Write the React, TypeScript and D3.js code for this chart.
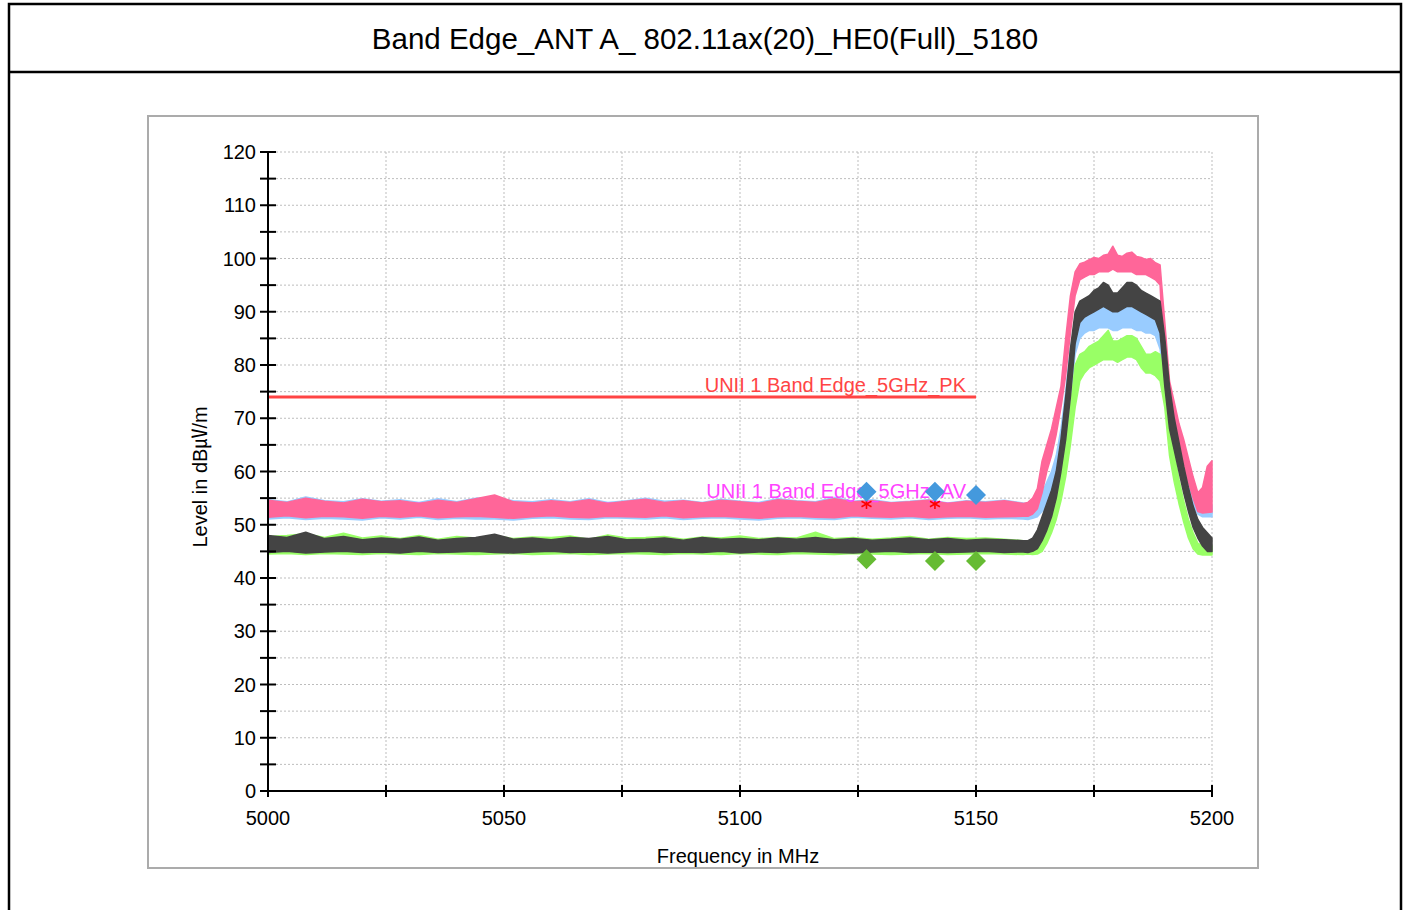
import React from "react";
import * as d3 from "d3";

// Spectrum sweep frequencies (MHz): coarse in the flat region, 1 MHz across the channel
const freqMHz = [
  5000, 5004, 5008, 5012, 5016, 5020, 5024, 5028, 5032, 5036, 5040, 5044, 5048, 5052,
  5056, 5060, 5064, 5068, 5072, 5076, 5080, 5084, 5088, 5092, 5096, 5100, 5104, 5108,
  5112, 5116, 5120, 5124, 5128, 5132, 5136, 5140, 5144, 5148, 5152, 5156, 5160,
  5161, 5162, 5163, 5164, 5165, 5166, 5167, 5168, 5169, 5170,
  5171, 5172, 5173, 5174, 5175, 5176, 5177, 5178, 5179, 5180,
  5181, 5182, 5183, 5184, 5185, 5186, 5187, 5188, 5189, 5190,
  5191, 5192, 5193, 5194, 5195, 5196, 5197, 5198, 5199, 5200,
];

// Trace envelopes (upper / lower level in dBµV/m) per detector trace
const pinkHi = [
  54.6, 54.2, 55.0, 54.4, 54.1, 54.8, 54.3, 54.5, 54.0, 54.6, 54.2, 54.9, 55.6, 54.3,
  54.1, 54.5, 54.2, 54.7, 54.0, 54.4, 54.8, 54.2, 54.5, 54.1, 54.6, 54.3, 54.0, 54.7,
  54.4, 54.2, 54.9, 54.3, 54.5, 54.1, 54.3, 54.6, 54.0, 54.4, 54.2, 54.5, 54.0,
  54.2, 55.0, 56.8, 62.0, 65.0, 68.0, 72.0, 76.0, 85.0, 93.0,
  97.5, 99.0, 99.3, 99.8, 100.2, 100.0, 100.6, 100.8, 102.3, 100.6,
  100.4, 101.0, 101.2, 100.4, 100.2, 99.8, 100.0, 99.2, 98.8, 88.0,
  77.0, 73.0, 69.0, 66.0, 62.5, 59.0, 56.0, 57.0, 61.0, 62.0,
];
const pinkLo = [
  51.4, 51.7, 51.3, 51.6, 51.5, 51.2, 51.6, 51.4, 51.7, 51.3, 51.5, 51.6, 51.4, 51.2,
  51.5, 51.7, 51.4, 51.3, 51.6, 51.5, 51.4, 51.7, 51.3, 51.5, 51.6, 51.4, 51.2, 51.5,
  51.6, 51.4, 51.3, 51.7, 51.5, 51.4, 51.6, 51.3, 51.5, 51.6, 51.4, 51.5, 51.6,
  51.6, 52.0, 53.0, 56.0, 60.0, 63.0, 67.0, 72.0, 78.0, 86.0,
  93.0, 96.0, 96.5, 97.0, 97.0, 97.5, 97.5, 97.5, 98.0, 97.5,
  97.5, 97.5, 97.5, 97.0, 97.0, 97.0, 96.5, 96.0, 95.0, 78.0,
  72.0, 68.0, 64.0, 61.0, 58.0, 55.0, 52.5, 52.2, 52.3, 52.4,
];
const blueHi = [
  54.7, 54.3, 55.2, 54.5, 54.3, 54.9, 54.4, 54.7, 54.2, 54.9, 54.3, 55.0, 55.1, 54.5,
  54.3, 54.7, 54.3, 54.9, 54.2, 54.5, 55.0, 54.4, 54.6, 54.2, 54.8, 54.4, 54.2, 54.9,
  54.5, 54.3, 55.1, 54.4, 54.7, 54.2, 54.4, 54.7, 54.1, 54.5, 54.3, 54.6, 54.1,
  54.0, 54.0, 54.5, 56.0, 58.0, 60.0, 63.0, 68.0, 75.0, 83.0,
  88.0, 89.0, 89.5, 90.0, 90.5, 91.0, 91.0, 90.5, 90.0, 90.0,
  90.5, 91.0, 91.0, 90.5, 90.5, 90.0, 89.5, 89.0, 88.5, 84.0,
  76.0, 71.0, 67.0, 63.0, 59.5, 57.0, 55.0, 54.0, 53.5, 53.5,
];
const blueLo = [
  51.1, 51.3, 51.0, 51.2, 51.1, 50.9, 51.3, 51.1, 51.4, 51.0, 51.2, 51.1, 51.1, 50.9,
  51.2, 51.3, 51.1, 51.0, 51.3, 51.2, 51.1, 51.3, 51.0, 51.2, 51.3, 51.1, 50.9, 51.2,
  51.3, 51.1, 51.0, 51.4, 51.2, 51.1, 51.3, 51.0, 51.2, 51.3, 51.1, 51.2, 51.1,
  51.0, 51.2, 51.5, 52.5, 53.5, 55.0, 57.0, 61.0, 66.0, 74.0,
  82.0, 85.0, 86.0, 86.5, 86.5, 87.0, 87.0, 87.0, 86.5, 86.5,
  87.0, 87.0, 87.0, 86.5, 86.5, 86.0, 86.0, 85.5, 83.0, 76.0,
  69.0, 65.0, 61.5, 58.0, 55.5, 53.5, 52.0, 51.5, 51.5, 51.5,
];
const grayHi = [
  48.0, 47.6, 48.6, 47.4, 47.8, 47.2, 47.5, 47.3, 47.7, 47.1, 47.4, 47.6, 48.2, 47.3,
  47.5, 47.2, 47.6, 47.4, 47.8, 47.2, 47.3, 47.5, 47.1, 47.6, 47.3, 47.4, 47.2, 47.5,
  47.3, 47.6, 47.2, 47.4, 47.1, 47.3, 47.5, 47.2, 47.4, 47.1, 47.3, 47.2, 47.0,
  47.0, 47.5, 49.0, 51.5, 54.0, 56.5, 60.0, 66.0, 74.0, 83.0,
  90.0, 92.0, 92.5, 93.0, 94.0, 94.5, 95.5, 95.0, 93.5, 93.5,
  94.5, 95.5, 95.5, 95.0, 94.0, 93.5, 93.0, 92.5, 92.0, 85.0,
  76.0, 70.0, 65.5, 61.0, 57.0, 53.5, 51.0, 49.5, 48.5, 47.5,
];
const grayLo = [
  44.8, 45.0, 44.7, 44.9, 45.0, 44.8, 44.9, 44.7, 45.0, 44.8, 44.9, 45.0, 44.8, 44.7,
  44.9, 45.0, 44.8, 44.9, 44.7, 44.9, 45.0, 44.8, 44.9, 44.8, 45.0, 44.7, 44.9, 44.8,
  45.0, 44.9, 44.8, 44.7, 44.9, 45.0, 44.8, 44.9, 44.8, 44.9, 45.0, 44.8, 44.9,
  44.8, 45.0, 45.5, 47.0, 49.0, 51.5, 55.0, 60.0, 66.0, 74.0,
  84.0, 88.0, 89.0, 89.5, 90.0, 90.5, 91.0, 90.5, 90.0, 90.0,
  90.5, 91.0, 91.0, 90.5, 90.0, 89.5, 89.0, 88.5, 86.0, 76.0,
  68.0, 64.0, 60.0, 56.0, 52.5, 49.5, 47.5, 46.0, 45.0, 45.0,
];
const greenHi = [
  47.8, 48.0, 48.3, 47.6, 48.4, 47.5, 47.9, 47.4, 48.0, 47.3, 47.8, 47.5, 48.0, 47.4,
  47.7, 47.6, 47.9, 47.3, 48.1, 47.5, 47.6, 47.8, 47.3, 47.7, 47.5, 47.9, 47.4, 47.6,
  47.5, 48.6, 47.4, 47.6, 47.3, 47.5, 47.8, 47.3, 47.6, 47.4, 47.5, 47.3, 47.0,
  46.8, 46.6, 46.5, 47.5, 50.0, 52.5, 55.5, 60.0, 65.0, 72.0,
  80.0, 82.0, 82.5, 83.5, 84.0, 84.5, 85.5, 86.5, 84.5, 84.5,
  85.0, 85.5, 85.5, 85.0, 83.5, 82.0, 82.0, 82.5, 82.0, 78.0,
  68.0, 63.5, 58.5, 54.5, 51.0, 48.5, 46.5, 46.2, 46.0, 46.0,
];
const greenLo = [
  44.5, 44.6, 44.4, 44.6, 44.5, 44.4, 44.6, 44.5, 44.4, 44.6, 44.5, 44.4, 44.5, 44.6,
  44.4, 44.5, 44.6, 44.4, 44.5, 44.6, 44.5, 44.4, 44.6, 44.5, 44.4, 44.6, 44.5, 44.4,
  44.6, 44.5, 44.4, 44.6, 44.5, 44.4, 44.5, 44.6, 44.4, 44.5, 44.6, 44.5, 44.4,
  44.5, 44.4, 44.5, 45.0, 46.5, 48.5, 51.0, 54.5, 59.0, 65.0,
  72.0, 77.0, 78.5, 79.5, 80.0, 80.5, 81.0, 81.0, 81.0, 80.5,
  81.0, 81.5, 81.5, 81.0, 79.5, 78.5, 78.5, 78.0, 77.0, 72.0,
  63.0, 58.0, 54.0, 50.5, 47.5, 45.5, 44.5, 44.3, 44.3, 44.3,
];

// Limit lines
const limitStartMHz = 5000;
const limitEndMHz = 5150;
const pkLimit = 74;
const avLimit = 54;
const pkLabel = "UNII 1 Band Edge_5GHz_PK";
const avLabel = "UNII 1 Band Edge_5GHz_AV";

// Measurement markers
const markerFreqs = [5126.8, 5141.3, 5150.0];
const pkMarkerLevels = [56.2, 56.2, 55.6];
const avMarkerLevels = [43.5, 43.2, 43.2];
const starFreqs = [5126.8, 5141.3];
const starLevels = [53.9, 53.9];

// Axes
const xTicks = [5000, 5025, 5050, 5075, 5100, 5125, 5150, 5175, 5200];
const xLabels = [5000, 5050, 5100, 5150, 5200];
const yTicks = [0, 5, 10, 15, 20, 25, 30, 35, 40, 45, 50, 55, 60, 65, 70, 75, 80, 85, 90, 95, 100, 105, 110, 115, 120];
const yLabels = [0, 10, 20, 30, 40, 50, 60, 70, 80, 90, 100, 110, 120];

const title = "Band Edge_ANT A_ 802.11ax(20)_HE0(Full)_5180";
const xTitle = "Frequency in MHz";
const yTitle = "Level in dB\u33B6/m";

const FONT = "'Liberation Sans', Arial, 'Noto Sans CJK KR', sans-serif";

export default function App() {
  const W = 1407;
  const H = 910;
  const x = d3.scaleLinear().domain([5000, 5200]).range([268, 1212]);
  const y = d3.scaleLinear().domain([0, 120]).range([791, 152]);

  const band = (hi: number[], lo: number[]) =>
    d3
      .area<number>()
      .x((_, i) => x(freqMHz[i]))
      .y0((_, i) => y(lo[i]))
      .y1((_, i) => y(hi[i]))(freqMHz.map((_, i) => i)) || "";

  const traces = [
    { hi: blueHi, lo: blueLo, color: "#99ccff" },
    { hi: pinkHi, lo: pinkLo, color: "#ff6699" },
    { hi: greenHi, lo: greenLo, color: "#99ff66" },
    { hi: grayHi, lo: grayLo, color: "#444444" },
  ];

  const diamond = (cx: number, cy: number, r: number) =>
    `M${cx},${cy - r}L${cx + r},${cy}L${cx},${cy + r}L${cx - r},${cy}Z`;

  return (
    <svg width={W} height={H} style={{ display: "block", position: "absolute", left: 0, top: 0 }}>
      <rect x={0} y={0} width={W} height={H} fill="#ffffff" />
      {/* outer report frame */}
      <rect x={9} y={4} width={1392} height={940} fill="none" stroke="#000" strokeWidth={2.5} />
      <line x1={9} x2={1401} y1={72} y2={72} stroke="#000" strokeWidth={2.5} />
      <text x={705} y={49} textAnchor="middle" fontFamily={FONT} fontSize={29.5} fill="#000">
        {title}
      </text>

      {/* chart panel */}
      <rect x={148} y={116} width={1110} height={752} fill="#fff" stroke="#ababab" strokeWidth={2} />

      {/* grid */}
      <g stroke="#bdbdbd" strokeWidth={1} strokeDasharray="2,2">
        {yTicks.filter((t) => t > 0).map((t) => (
          <line key={"gy" + t} x1={x(5000)} x2={x(5200)} y1={y(t)} y2={y(t)} />
        ))}
        {xTicks.filter((t) => t > 5000).map((t) => (
          <line key={"gx" + t} x1={x(t)} x2={x(t)} y1={y(120)} y2={y(0)} />
        ))}
      </g>

      {/* PK limit */}
      <line x1={x(limitStartMHz)} x2={x(limitEndMHz)} y1={y(pkLimit)} y2={y(pkLimit)} stroke="#ff4444" strokeWidth={3} />
      <text x={x(limitEndMHz) - 10} y={y(pkLimit) - 5} textAnchor="end" fontFamily={FONT} fontSize={20} fill="#ff4444">
        {pkLabel}
      </text>

      {/* traces */}
      {traces.map((t, i) => (
        <g key={"tr" + i}>
          {i === 1 && (
            <line x1={x(limitStartMHz)} x2={x(limitEndMHz)} y1={y(avLimit)} y2={y(avLimit)} stroke="#ff44ff" strokeWidth={2} />
          )}
          <path d={band(t.hi, t.lo)} fill={t.color} stroke={t.color} strokeWidth={1.5} strokeLinejoin="round" />
        </g>
      ))}

      <text x={x(limitEndMHz) - 10} y={y(avLimit) - 5} textAnchor="end" fontFamily={FONT} fontSize={20} fill="#ff44ff">
        {avLabel}
      </text>

      {/* markers */}
      {starFreqs.map((f, i) => {
        const cx = x(f);
        const cy = y(starLevels[i]);
        const r = 5;
        return (
          <g key={"st" + i} stroke="#ff0000" strokeWidth={1.6}>
            <line x1={cx} x2={cx} y1={cy - r} y2={cy + r} />
            <line x1={cx - r} x2={cx + r} y1={cy - r * 0.55} y2={cy + r * 0.55} />
            <line x1={cx - r} x2={cx + r} y1={cy + r * 0.55} y2={cy - r * 0.55} />
          </g>
        );
      })}
      {markerFreqs.map((f, i) => (
        <path key={"pkm" + i} d={diamond(x(f), y(pkMarkerLevels[i]), 10)} fill="#4499dd" />
      ))}
      {markerFreqs.map((f, i) => (
        <path key={"avm" + i} d={diamond(x(f), y(avMarkerLevels[i]), 10)} fill="#66bb33" />
      ))}

      {/* axes */}
      <g stroke="#000" strokeWidth={2}>
        <line x1={x(5000)} x2={x(5000)} y1={y(120)} y2={y(0)} />
        <line x1={x(5000)} x2={x(5200)} y1={y(0)} y2={y(0)} />
        {yTicks.map((t) => (
          <line key={"yt" + t} x1={x(5000) - 8} x2={x(5000) + 8} y1={y(t)} y2={y(t)} />
        ))}
        {xTicks.map((t) => (
          <line key={"xt" + t} x1={x(t)} x2={x(t)} y1={y(0) - 6} y2={y(0) + 6} />
        ))}
      </g>
      <g fontFamily={FONT} fontSize={20} fill="#000">
        {yLabels.map((t) => (
          <text key={"yl" + t} x={x(5000) - 12} y={y(t) + 7} textAnchor="end">
            {t}
          </text>
        ))}
        {xLabels.map((t) => (
          <text key={"xl" + t} x={x(t)} y={y(0) + 34} textAnchor="middle">
            {t}
          </text>
        ))}
        <text x={738} y={863} textAnchor="middle">
          {xTitle}
        </text>
        <text transform="translate(207,477) rotate(-90)" textAnchor="middle">
          {yTitle}
        </text>
      </g>
    </svg>
  );
}
